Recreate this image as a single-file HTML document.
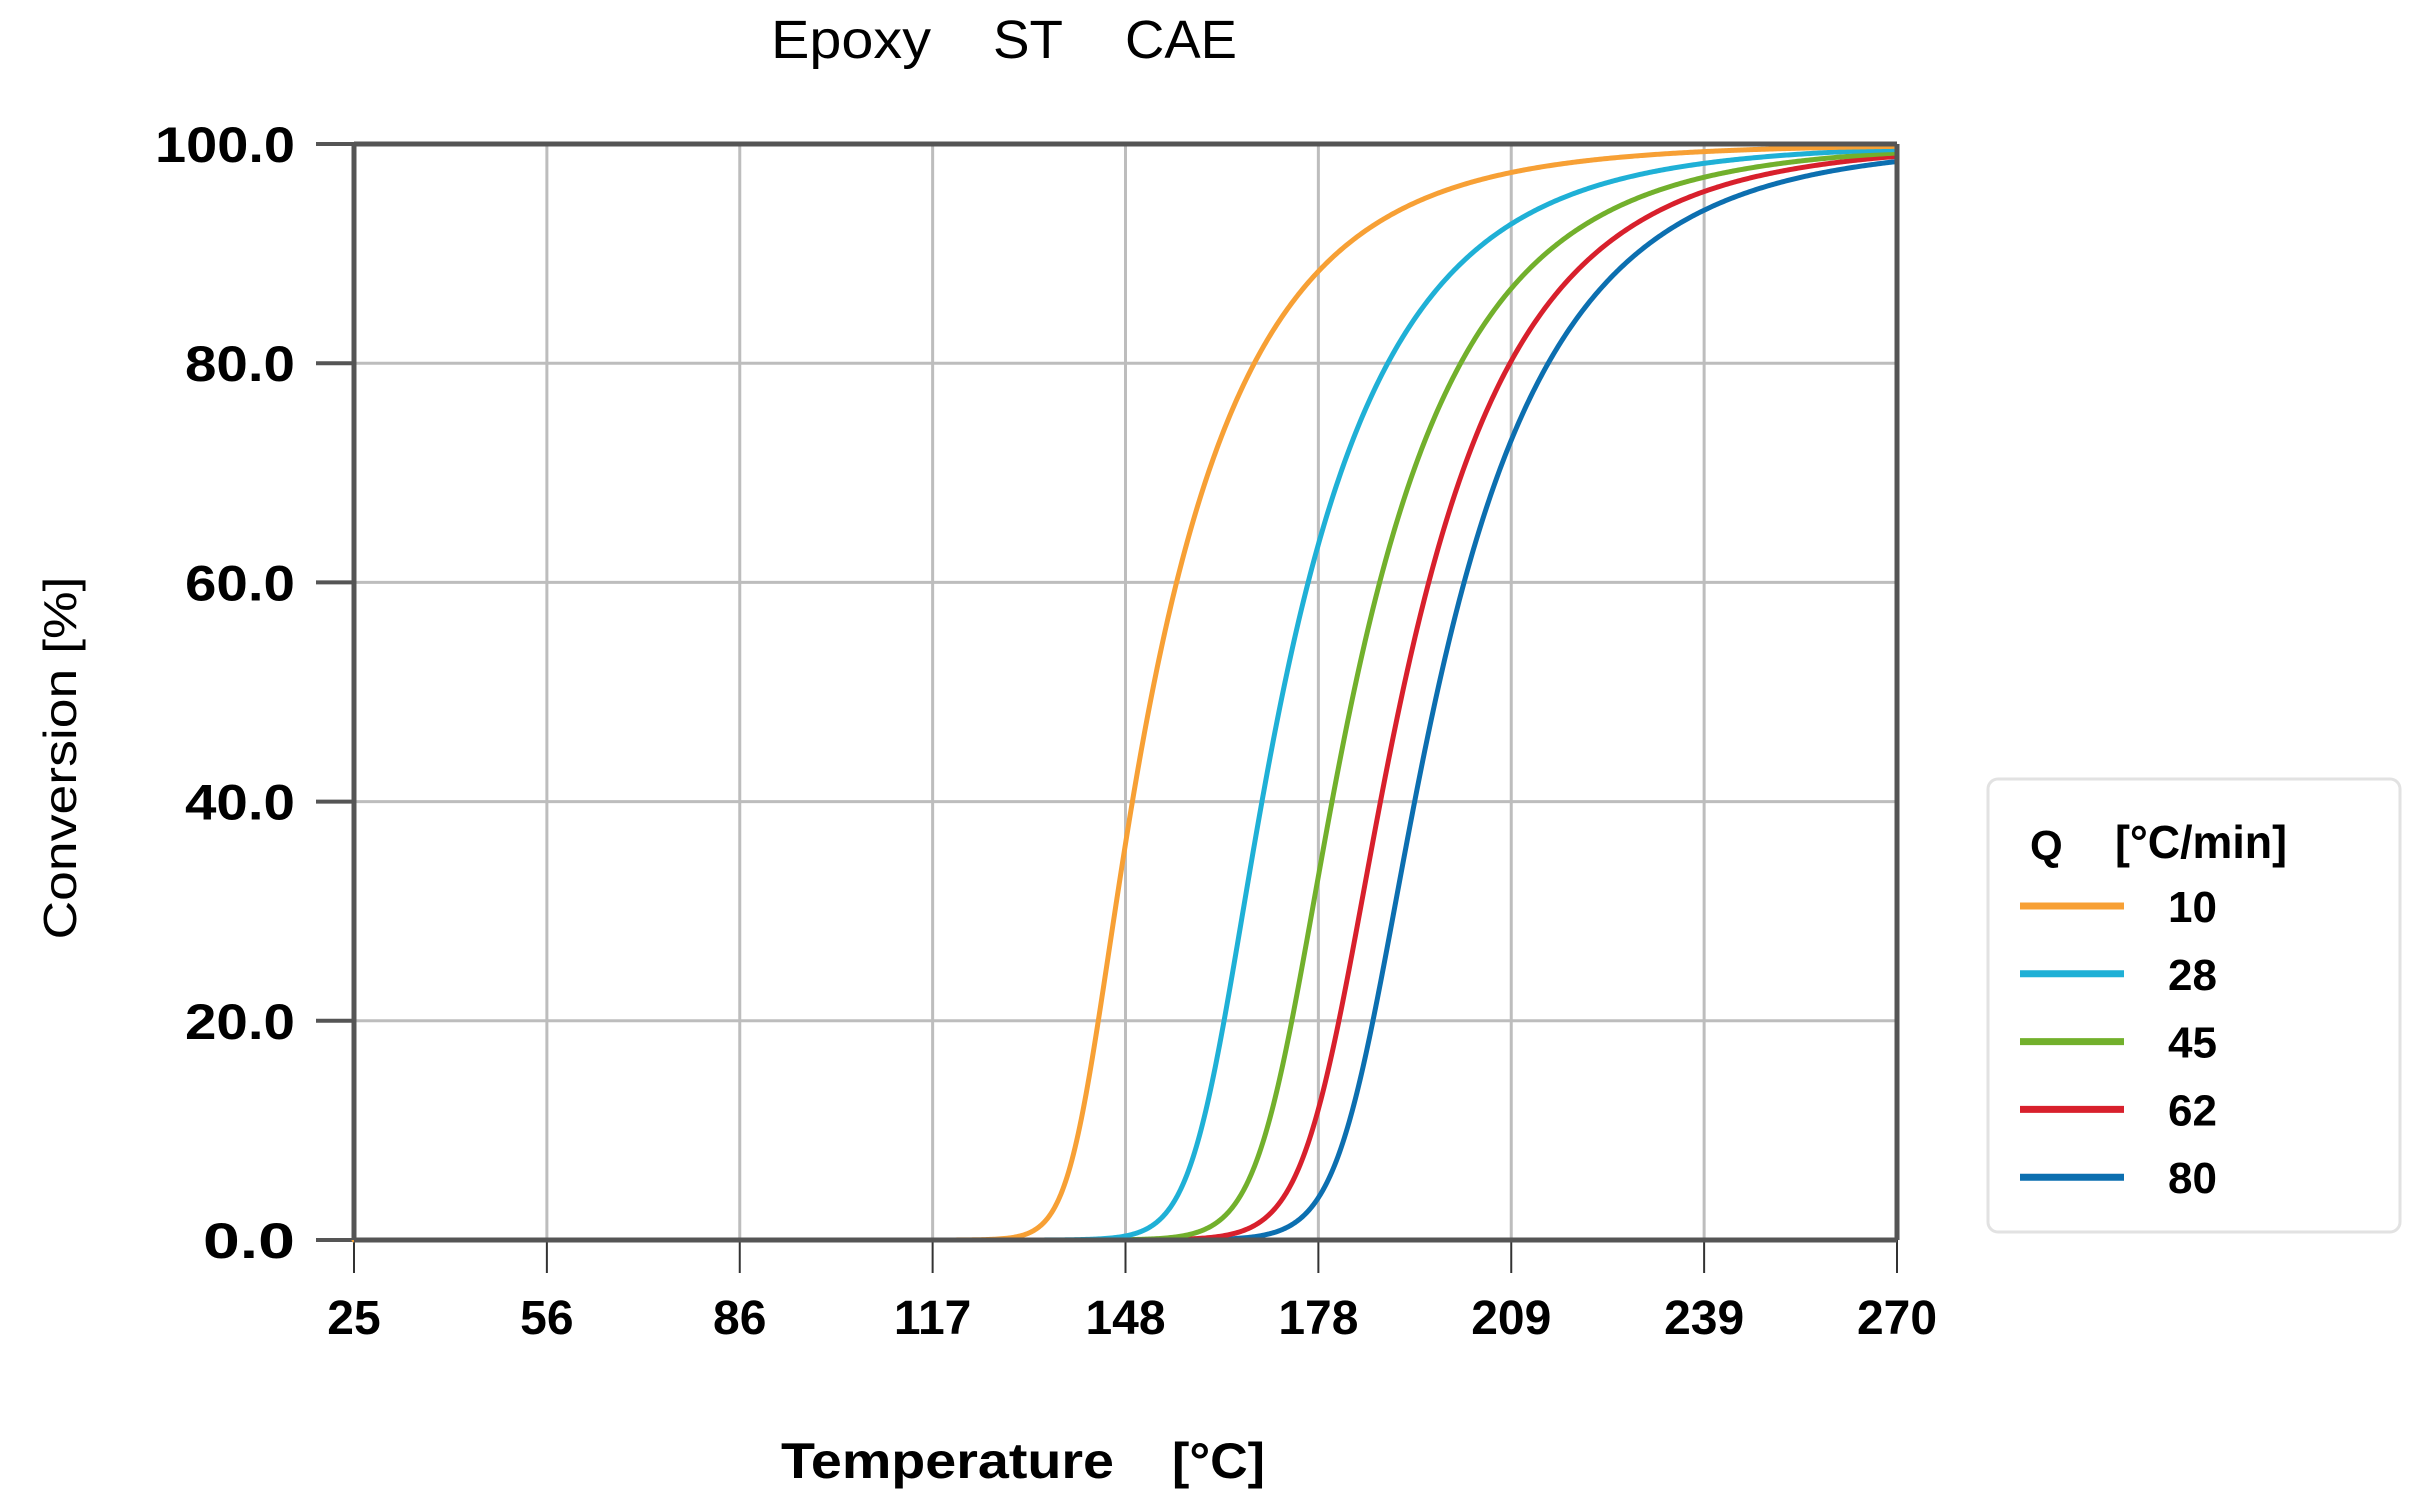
<!DOCTYPE html>
<html><head><meta charset="utf-8"><style>
html,body{margin:0;padding:0;background:#fff;}
svg{display:block;}
text{font-family:"Liberation Sans",sans-serif;fill:#000;}
</style></head><body>
<svg id="s" width="2426" height="1499" viewBox="0 0 2426 1499" xmlns="http://www.w3.org/2000/svg">
<g font-size="54">
<text x="771" y="58" textLength="160" lengthAdjust="spacingAndGlyphs">Epoxy</text>
<text x="993" y="58" textLength="70" lengthAdjust="spacingAndGlyphs">ST</text>
<text x="1125" y="58" textLength="112" lengthAdjust="spacingAndGlyphs">CAE</text>
</g>
<g id="grid" stroke="#bdbdbd" stroke-width="3"></g>
<g id="ticks" stroke="#333" stroke-width="3"></g>
<g id="labels" font-weight="bold" font-size="50"></g>
<g id="curves" fill="none" stroke-width="5" stroke-linejoin="round" stroke-linecap="round"></g>
<g stroke="#555" stroke-width="5" fill="none">
<line x1="354" y1="144" x2="1897" y2="144"/>
<line x1="354" y1="1240" x2="1897" y2="1240"/>
<line x1="354" y1="144" x2="354" y2="1240"/>
<line x1="1897" y1="144" x2="1897" y2="1240"/>
</g>
<text transform="translate(76,758) rotate(-90)" font-size="46" text-anchor="middle" textLength="363" lengthAdjust="spacingAndGlyphs">Conversion [%]</text>
<g font-size="50" font-weight="bold">
<text x="781" y="1478" textLength="333" lengthAdjust="spacingAndGlyphs">Temperature</text>
<text x="1172" y="1478" textLength="93" lengthAdjust="spacingAndGlyphs">[°C]</text>
</g>
<rect x="1988" y="779" width="412" height="453" rx="10" fill="#fff" stroke="#e2e2e2" stroke-width="3"/>
<text x="2030" y="860" font-size="42" font-weight="bold">Q</text>
<text x="2115" y="858" font-size="46" font-weight="bold" textLength="172" lengthAdjust="spacingAndGlyphs">[°C/min]</text>
<g id="leg" font-size="44" font-weight="bold"></g>
</svg>
<script>
var NS="http://www.w3.org/2000/svg";
function el(p,t,a,txt){var e=document.createElementNS(NS,t);for(var k in a)e.setAttribute(k,a[k]);if(txt!==undefined)e.textContent=txt;p.appendChild(e);return e;}
var L=354,R=1897,T=144,B=1240;
var grid=document.getElementById('grid'),ticks=document.getElementById('ticks'),labels=document.getElementById('labels');
var xt=["25","56","86","117","148","178","209","239","270"];
for(var i=0;i<9;i++){var x=L+(R-L)*i/8;
 if(i>0&&i<8)el(grid,'line',{x1:x,y1:T,x2:x,y2:B});
 el(ticks,'line',{x1:x,y1:B,x2:x,y2:1273,'stroke-width':2});
 el(labels,'text',{x:x,y:1334,'text-anchor':'middle','font-size':48},xt[i]);}
var yt=["0.0","20.0","40.0","60.0","80.0","100.0"];
for(var j=0;j<6;j++){var y=B-(B-T)*j/5;
 if(j>0&&j<5)el(grid,'line',{x1:L,y1:y,x2:R,y2:y});
 el(ticks,'line',{x1:316,y1:y,x2:L,y2:y,'stroke-width':4,stroke:'#555'});
 el(labels,'text',{x:295,y:y+18,'text-anchor':'end',textLength:(j==5?140:(j==0?92:110)),lengthAdjust:'spacingAndGlyphs'},yt[j]);}
function py(p){return B-(B-T)*p/100;}
var PX=(R-L)/245;
function tx(T){return L+(T-25)*PX;}
var S=[
 ["#f7a035","10",[[1030,1],[1046,3],[1078,10],[1101,20],[1135,40],[1153,50],[1171,60],[1231,80],[1287,90],[1380,95.2],[1508,98],[1704,99.2],[1897,99.7]]],
 ["#1fb0d6","28",[[1145,1],[1164,3],[1201,10],[1222,20],[1265,40],[1283,50],[1308,60],[1367,80],[1450,90.3],[1508,93.4],[1600,96],[1704,97.9],[1897,99.5]]],
 ["#72b02c","45",[[1205,1],[1226,3],[1270,10],[1289,20],[1331,40],[1354,50],[1373,60],[1440,80],[1508,88.5],[1600,93.5],[1704,96.8],[1897,99.1]]],
 ["#d8202c","62",[[1247,1],[1268,3],[1312,10],[1333,20],[1377,40],[1402,50],[1423,60],[1493,79],[1600,90.5],[1704,95.8],[1897,98.8]]],
 ["#0c6fb0","80",[[1283,1],[1306,3],[1348,10],[1370,20],[1415,40],[1438,50],[1459,60],[1536,79.5],[1600,87.5],[1704,94.3],[1897,98.2]]]
];
var DT=0.25,NT=Math.round(245/DT)+1,Ts=[];for(var q=0;q<NT;q++)Ts.push(25+q*DT);
var cache={};
function I0(E){if(cache[E])return cache[E];var a=[0],s=0;
 for(var q=1;q<NT;q++){var Tm=Ts[q]-DT/2+273.15;s+=Math.exp(-E/Tm+E/440)*DT;a.push(s);}cache[E]=a;return a;}
function Tat(arr,v){var lo=0,hi=NT-1;if(v<=arr[0])return Ts[0];if(v>=arr[hi])return Ts[hi]+30;
 while(hi-lo>1){var m=(lo+hi)>>1;if(arr[m]<v)lo=m;else hi=m;}
 return Ts[lo]+DT*(v-arr[lo])/(arr[hi]-arr[lo]);}
function Ip(p,n){return (Math.pow(1-p,-(n-1))-1)/(n-1);}
function fit(pts){var best=null;
 var T50=25+(pts.filter(function(q){return q[1]==50;})[0][0]-L)/PX;
 for(var E=4000;E<=160000;E+=1000){var arr=I0(E);
  var idx=Math.round((T50-25)/DT),i50=arr[idx];
  for(var n=1.1;n<=12.01;n+=0.1){
   var sc=Ip(0.5,n)/i50,err=0;
   for(var k=0;k<pts.length;k++){var p=pts[k][1]/100;var T=Tat(arr,Ip(p,n)/sc);var d=tx(T)-pts[k][0];var w=(pts[k][1]>=10&&pts[k][1]<=90)?2:1;err+=w*d*d;}
   if(!best||err<best.err)best={err:err,E:E,n:n,sc:sc};}}
 return best;}
var cg=document.getElementById('curves'),lg=document.getElementById('leg');
S.slice().reverse().forEach(function(c){
 var f=fit(c[2]),arr=I0(f.E),s="";
 for(var q=0;q<NT;q++){var I=arr[q]*f.sc;var a=1-Math.pow(1+(f.n-1)*I,-1/(f.n-1));
  s+=(q?" L":"M")+tx(Ts[q]).toFixed(2)+","+py(a*100).toFixed(2);}
 el(cg,'path',{d:s,stroke:c[0]});});
S.forEach(function(c,k){
 var y=906+k*67.8;
 el(lg,'line',{x1:2020,y1:y,x2:2124,y2:y,stroke:c[0],'stroke-width':7});
 el(lg,'text',{x:2168,y:y+16},c[1]);});
</script>
</body></html>
